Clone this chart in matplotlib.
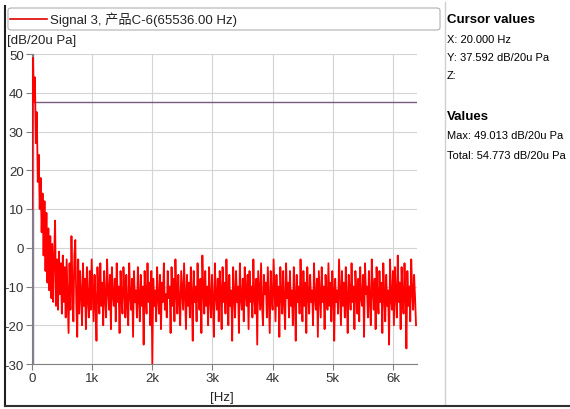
# Spectrum plot of Signal 3 with the cursor info panel on the right
import numpy as np
import matplotlib
matplotlib.use('Agg')
import matplotlib.pyplot as plt
from matplotlib.patches import FancyBboxPatch
from matplotlib.lines import Line2D

# bin width of the spectrum (Hz)
df = 16.0

# level per bin, dB/20u Pa
level = [
    10, 49.0, 37.6, 44, 27, 35, 17, 24, 10, 18, 4, 14, -2, 12, -6, 9, -9, 5, -11, 3,
    -13, 1, -14, -2, 7, -15, -3, -16, -1, -12, -4, -17, -2, -14, -5, -18, -3, -13, -22, -4,
    -16, 3, -10, -19, -2, 2, -14, -23, -3, -17, -6, -12, -20, -4, -15, -8, -21, -5, -13, -18,
    -6, -16, -3, -11, -19, -7, -14, -24, -5, -12, -17, -4, -15, -9, -20, -6, -13, -18, -3, -11,
    -16, -7, -21, -5, -12, -15, -8, -19, -4, -14, -10, -22, -6, -13, -17, -5, -11, -18, -7, -15,
    -20, -4, -12, -16, -8, -23, -6, -14, -11, -18, -5, -13, -19, -7, -15, -10, -25, -6, -12, -17,
    -4, -14, -9, -20, -6, -30, -8, -15, -11, -19, -5, -13, -17, -7, -21, -9, -14, -4, -16, -12,
    -18, -6, -13, -10, -22, -5, -15, -8, -19, -3, -12, -17, -7, -14, -20, -6, -11, -16, -4, -13,
    -21, -7, -15, -9, -18, -5, -12, -24, -6, -14, -10, -19, -4, -13, -16, -8, -22, -2, -11, -17,
    -6, -15, -10, -20, -5, -13, -18, -7, -14, -23, -4, -12, -16, -8, -19, -6, -11, -21, -5, -14,
    -9, -17, -3, -13, -20, -7, -15, -11, -24, -5, -12, -18, -6, -14, -10, -22, -4, -13, -16, -8,
    -19, -5, -12, -15, -7, -21, -6, -14, -10, -18, -3, -13, -17, -8, -25, -6, -11, -16, -4, -15,
    -20, -7, -12, -9, -18, -5, -14, -22, -6, -13, -16, -3, -11, -19, -7, -15, -10, -23, -5, -12,
    -17, -6, -14, -21, -4, -13, -9, -18, -6, -15, -11, -20, -5, -12, -24, -7, -14, -10, -17, -3,
    -13, -19, -6, -15, -9, -22, -5, -12, -17, -7, -14, -11, -20, -4, -13, -16, -8, -23, -6, -12,
    -18, -5, -14, -10, -21, -7, -13, -16, -4, -15, -9, -19, -6, -12, -24, -8, -14, -11, -17, -3,
    -12, -20, -6, -15, -9, -18, -5, -13, -22, -7, -11, -16, -4, -14, -10, -21, -6, -12, -17, -8,
    -19, -5, -13, -15, -7, -23, -4, -12, -10, -18, -6, -14, -20, -3, -11, -16, -8, -21, -5, -13,
    -17, -6, -14, -9, -22, -4, -12, -19, -7, -15, -11, -25, -3, -13, -16, -6, -20, -5, -12, -18,
    -2, -14, -9, -21, -5, -13, -17, -4, -12, -26, -6, -15, -10, -19, -3, -11, -16, -7, -13, -20,
]
freq = np.arange(len(level)) * df

cursor_x = 20.000
cursor_y = 37.592
max_val = 49.013
total_val = 54.773

x_ticks = [0, 1000, 2000, 3000, 4000, 5000, 6000]
x_labels = ['0', '1k', '2k', '3k', '4k', '5k', '6k']
y_ticks = [-30, -20, -10, 0, 10, 20, 30, 40, 50]

W, H = 570, 410
plt.rcParams['font.family'] = ['Liberation Sans', 'Noto Sans CJK SC']
plt.rcParams['axes.unicode_minus'] = False

def fx(px):
    return px / W

def fy(py):
    return 1 - py / H

fig = plt.figure(figsize=(W / 100, H / 100), dpi=100)
ax = fig.add_axes([fx(32), fy(365), fx(417) - fx(32), fy(55) - fy(365)])

# cursor lines under the signal
ax.axhline(cursor_y, color='#7a5a80', lw=1.0, zorder=2)
ax.axvline(cursor_x, color='#8a7a9a', lw=1.0, zorder=2)
ax.plot(freq, level, color='#ff0000', lw=1.3, zorder=3)

ax.set_xlim(0, 6400)
ax.set_ylim(-30, 50)
ax.set_xticks(x_ticks)
ax.set_xticklabels(x_labels)
ax.set_yticks(y_ticks)
ax.grid(True, color='#d4d4d4', lw=0.8)
ax.set_axisbelow(True)
for s in ['top', 'right']:
    ax.spines[s].set_visible(False)
for s in ['left', 'bottom']:
    ax.spines[s].set_color('#808080')
ax.tick_params(colors='#808080', labelcolor='#333333', labelsize=9.5, length=4, pad=2)

# legend box at the top
leg = FancyBboxPatch((fx(8), fy(31)), fx(440) - fx(8), fy(9) - fy(31),
                     boxstyle='round,pad=0,rounding_size=0.006', transform=fig.transFigure,
                     facecolor='white', edgecolor='#b0b0b0', lw=0.8)
fig.patches.append(leg)
fig.add_artist(Line2D([fx(10), fx(47)], [fy(20), fy(20)], color='#e00000', lw=1.2))
fig.text(fx(50), fy(20), 'Signal 3, 产品C-6(65536.00 Hz)', fontsize=9.5, va='center',
         color='#222222')

fig.text(fx(7), fy(41), '[dB/20u Pa]', fontsize=9.5, va='center', color='#222222')
fig.text(fx(222), fy(398), '[Hz]', fontsize=9.5, va='center', ha='center', color='#222222')

# separator and frame
fig.add_artist(Line2D([fx(445), fx(445)], [fy(3), fy(405)], color='#d0d0d0', lw=1.0))
fig.add_artist(Line2D([fx(5), fx(5)], [fy(7), fy(407)], color='#202020', lw=1.5))
fig.add_artist(Line2D([fx(5), fx(570)], [fy(407), fy(407)], color='#303030', lw=1.5))

# cursor panel
fig.text(fx(447), fy(20), 'Cursor values', fontsize=9.5, fontweight='bold', va='center')
fig.text(fx(447), fy(40), 'X: %.3f Hz' % cursor_x, fontsize=8, va='center')
fig.text(fx(447), fy(58), 'Y: %.3f dB/20u Pa' % cursor_y, fontsize=8, va='center')
fig.text(fx(447), fy(76), 'Z:', fontsize=8, va='center')
fig.text(fx(447), fy(117), 'Values', fontsize=9.5, fontweight='bold', va='center')
fig.text(fx(447), fy(136), 'Max: %.3f dB/20u Pa' % max_val, fontsize=8, va='center')
fig.text(fx(447), fy(156), 'Total: %.3f dB/20u Pa' % total_val, fontsize=8, va='center')

fig.savefig('out.png', dpi=100)
